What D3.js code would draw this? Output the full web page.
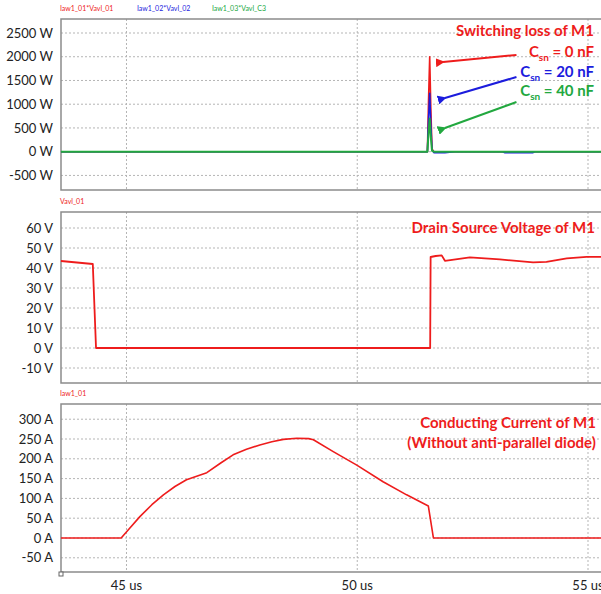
<!DOCTYPE html>
<meta charset="utf-8">
<script src="https://d3js.org/d3.v7.min.js"></script>
<style>
  body { margin: 0; background: #fff; }
  text { font-family: Lato, "Open Sans", sans-serif; }
</style>
<body>
<div id="my_dataviz"></div>
<script>

// switching loss, one array per snubber capacitance
var lossTimeA = [43.58, 51.52, 51.545, 51.57, 51.595, 51.62, 51.66, 55.33];
var lossC0    = [0, 0, 1100, 2000, 900, 60, 0, 0];
var lossTimeB = [43.58, 51.52, 51.545, 51.57, 51.595, 51.62, 51.66, 51.9, 52.1, 53.15, 53.2, 53.8, 53.85, 55.33];
var lossC20   = [0, 0, 700, 1230, 550, 40, -20, -20, 0, 0, -20, -20, 0, 0];
var lossC40   = [0, 0, 400, 700, 300, 20, 0, 0];

// drain source voltage
var vdsTime = [43.58, 44.27, 44.34, 51.58, 51.59, 51.70, 51.83, 51.90, 52.44, 53.09, 53.81, 54.10, 54.54, 54.97, 55.33];
var vdsVal  = [43.5, 42, 0, 0, 45.5, 46, 46.3, 43.6, 45.3, 44.3, 42.8, 43.1, 44.8, 45.6, 45.6];

// conducting current
var idTime = [43.58, 44.885, 45.05, 45.29, 45.55, 45.80, 46.05, 46.30, 46.74, 47.05, 47.31, 47.60, 47.89, 48.15, 48.40, 48.69, 48.95, 49.05, 49.48, 49.99, 50.56, 51.07, 51.54, 51.65, 55.33];
var idVal  = [0, 0, 22, 54, 84, 109, 130, 147, 165, 190, 210, 224, 235, 243, 249, 252, 251, 248, 218, 184, 142, 109, 81, 0, 0];

var lossTicks = [-500, 0, 500, 1000, 1500, 2000, 2500];
var vdsTicks  = [-10, 0, 10, 20, 30, 40, 50, 60];
var idTicks   = [-50, 0, 50, 100, 150, 200, 250, 300];
var timeTicks = [45, 50, 55];

var red = "#ee1c1c", blue = "#1c1cdd", green = "#22a83f";

var width = 601, height = 594;
var svg = d3.select("#my_dataviz").append("svg")
    .attr("width", width)
    .attr("height", height);

var defs = svg.append("defs");
[["r", red], ["b", blue], ["g", green]].forEach(function(m) {
  defs.append("marker")
      .attr("id", "arrow-" + m[0])
      .attr("viewBox", "0 0 10 10")
      .attr("refX", 2).attr("refY", 5)
      .attr("markerWidth", 4.5).attr("markerHeight", 4.5)
      .attr("orient", "auto")
    .append("path")
      .attr("d", "M10,0 L0,5 L10,10 z")
      .attr("fill", m[1]);
});

var x = d3.scaleLinear().domain([43.581, 55.325]).range([61, 603]);

function panel(top, bottom, domain, ticks, unit) {
  var y = d3.scaleLinear().domain(domain).range([bottom, top]);
  var g = svg.append("g");

  // grid
  g.selectAll(".hg").data(ticks).enter().append("line")
      .attr("x1", 61).attr("x2", width)
      .attr("y1", function(d) { return y(d); })
      .attr("y2", function(d) { return y(d); })
      .attr("stroke", "#b5b5b5").attr("stroke-width", 1)
      .attr("stroke-dasharray", "2,2");
  g.selectAll(".vg").data(timeTicks).enter().append("line")
      .attr("x1", function(d) { return x(d); })
      .attr("x2", function(d) { return x(d); })
      .attr("y1", top).attr("y2", bottom)
      .attr("stroke", "#b5b5b5").attr("stroke-width", 1)
      .attr("stroke-dasharray", "2,2");

  // frame
  g.append("path")
      .attr("d", "M" + width + "," + top + "H61V" + bottom + "H" + width)
      .attr("fill", "none").attr("stroke", "#8c8c8c").attr("stroke-width", 1.5);

  // tick labels
  g.selectAll(".tl").data(ticks).enter().append("text")
      .attr("x", 53)
      .attr("y", function(d) { return y(d); })
      .attr("dy", "0.35em")
      .attr("text-anchor", "end")
      .attr("font-size", "13px")
      .attr("fill", "#222")
      .text(function(d) { return d + " " + unit; });

  return y;
}

function seriesLabel(px, py, txt, col) {
  svg.append("text")
      .attr("x", px).attr("y", py)
      .attr("font-size", "7px")
      .attr("fill", col)
      .text(txt);
}

function drawLine(y, ts, vs, col, w) {
  var pts = ts.map(function(t, i) { return [t, vs[i]]; });
  svg.append("path")
      .datum(pts)
      .attr("fill", "none")
      .attr("stroke", col)
      .attr("stroke-width", w || 1.8)
      .attr("stroke-linejoin", "round")
      .attr("d", d3.line()
        .x(function(d) { return x(d[0]); })
        .y(function(d) { return y(d[1]); }));
}

// ---- panel 1: switching loss
var y1 = panel(19, 190, [-807, 2795], lossTicks, "W");
seriesLabel(60, 11, "Iaw1_01*Vavl_01", red);
seriesLabel(137, 11, "Iaw1_02*Vavl_02", blue);
seriesLabel(212, 11, "Iaw1_03*Vavl_C3", green);
drawLine(y1, lossTimeA, lossC0, red, 1.6);
drawLine(y1, lossTimeB, lossC20, blue, 1.6);
drawLine(y1, lossTimeA, lossC40, green, 2);

function bold(px, py, txt, col, size) {
  return svg.append("text")
      .attr("x", px).attr("y", py)
      .attr("text-anchor", "end")
      .attr("font-size", (size || 15) + "px")
      .attr("font-weight", "bold")
      .attr("fill", col)
      .text(txt);
}
bold(x(55.13), y1(2440), "Switching loss of M1", red);

var csn = [[0, red, "r", 1990], [20, blue, "b", 1570], [40, green, "g", 1170]];
csn.forEach(function(c) {
  var t = svg.append("text")
      .attr("x", x(55.13)).attr("y", y1(c[3]))
      .attr("text-anchor", "end")
      .attr("font-size", "15px")
      .attr("font-weight", "bold")
      .attr("fill", c[1]);
  t.append("tspan").text("C");
  t.append("tspan").attr("font-size", "10px").attr("dy", "4").text("sn");
  t.append("tspan").attr("dy", "-4").text(" = " + c[0] + " nF");
});

var arrows = [
  [53.45, 2037, 51.86, 1889, "r", red],
  [53.45, 1573, 51.90, 1131, "b", blue],
  [53.45, 1047, 51.90, 499, "g", green]
];
arrows.forEach(function(a) {
  svg.append("line")
      .attr("x1", x(a[0])).attr("y1", y1(a[1]))
      .attr("x2", x(a[2])).attr("y2", y1(a[3]))
      .attr("stroke", a[5]).attr("stroke-width", 2)
      .attr("marker-end", "url(#arrow-" + a[4] + ")");
});

// ---- panel 2: drain source voltage
var y2 = panel(212, 383, [-17.5, 68], vdsTicks, "V");
seriesLabel(60, 204, "Vavl_01", red);
drawLine(y2, vdsTime, vdsVal, red, 1.8);
bold(x(55.15), y2(57.5), "Drain Source Voltage of M1", red);

// ---- panel 3: conducting current
var y3 = panel(404, 572, [-85.9, 338.4], idTicks, "A");
seriesLabel(60, 396, "Iaw1_01", red);
drawLine(y3, idTime, idVal, red, 1.6);
bold(x(55.17), y3(278), "Conducting Current of M1", red);
bold(x(55.17), y3(228), "(Without anti-parallel diode)", red);

// x axis labels
svg.selectAll(".xt").data(timeTicks).enter().append("text")
    .attr("x", function(d) { return x(d); })
    .attr("y", 590)
    .attr("text-anchor", "middle")
    .attr("font-size", "13px")
    .attr("fill", "#222")
    .text(function(d) { return d + " us"; });

svg.append("rect")
    .attr("x", 59).attr("y", 572)
    .attr("width", 4).attr("height", 4)
    .attr("fill", "#fff").attr("stroke", "#666").attr("stroke-width", 1);

</script>
</body>
